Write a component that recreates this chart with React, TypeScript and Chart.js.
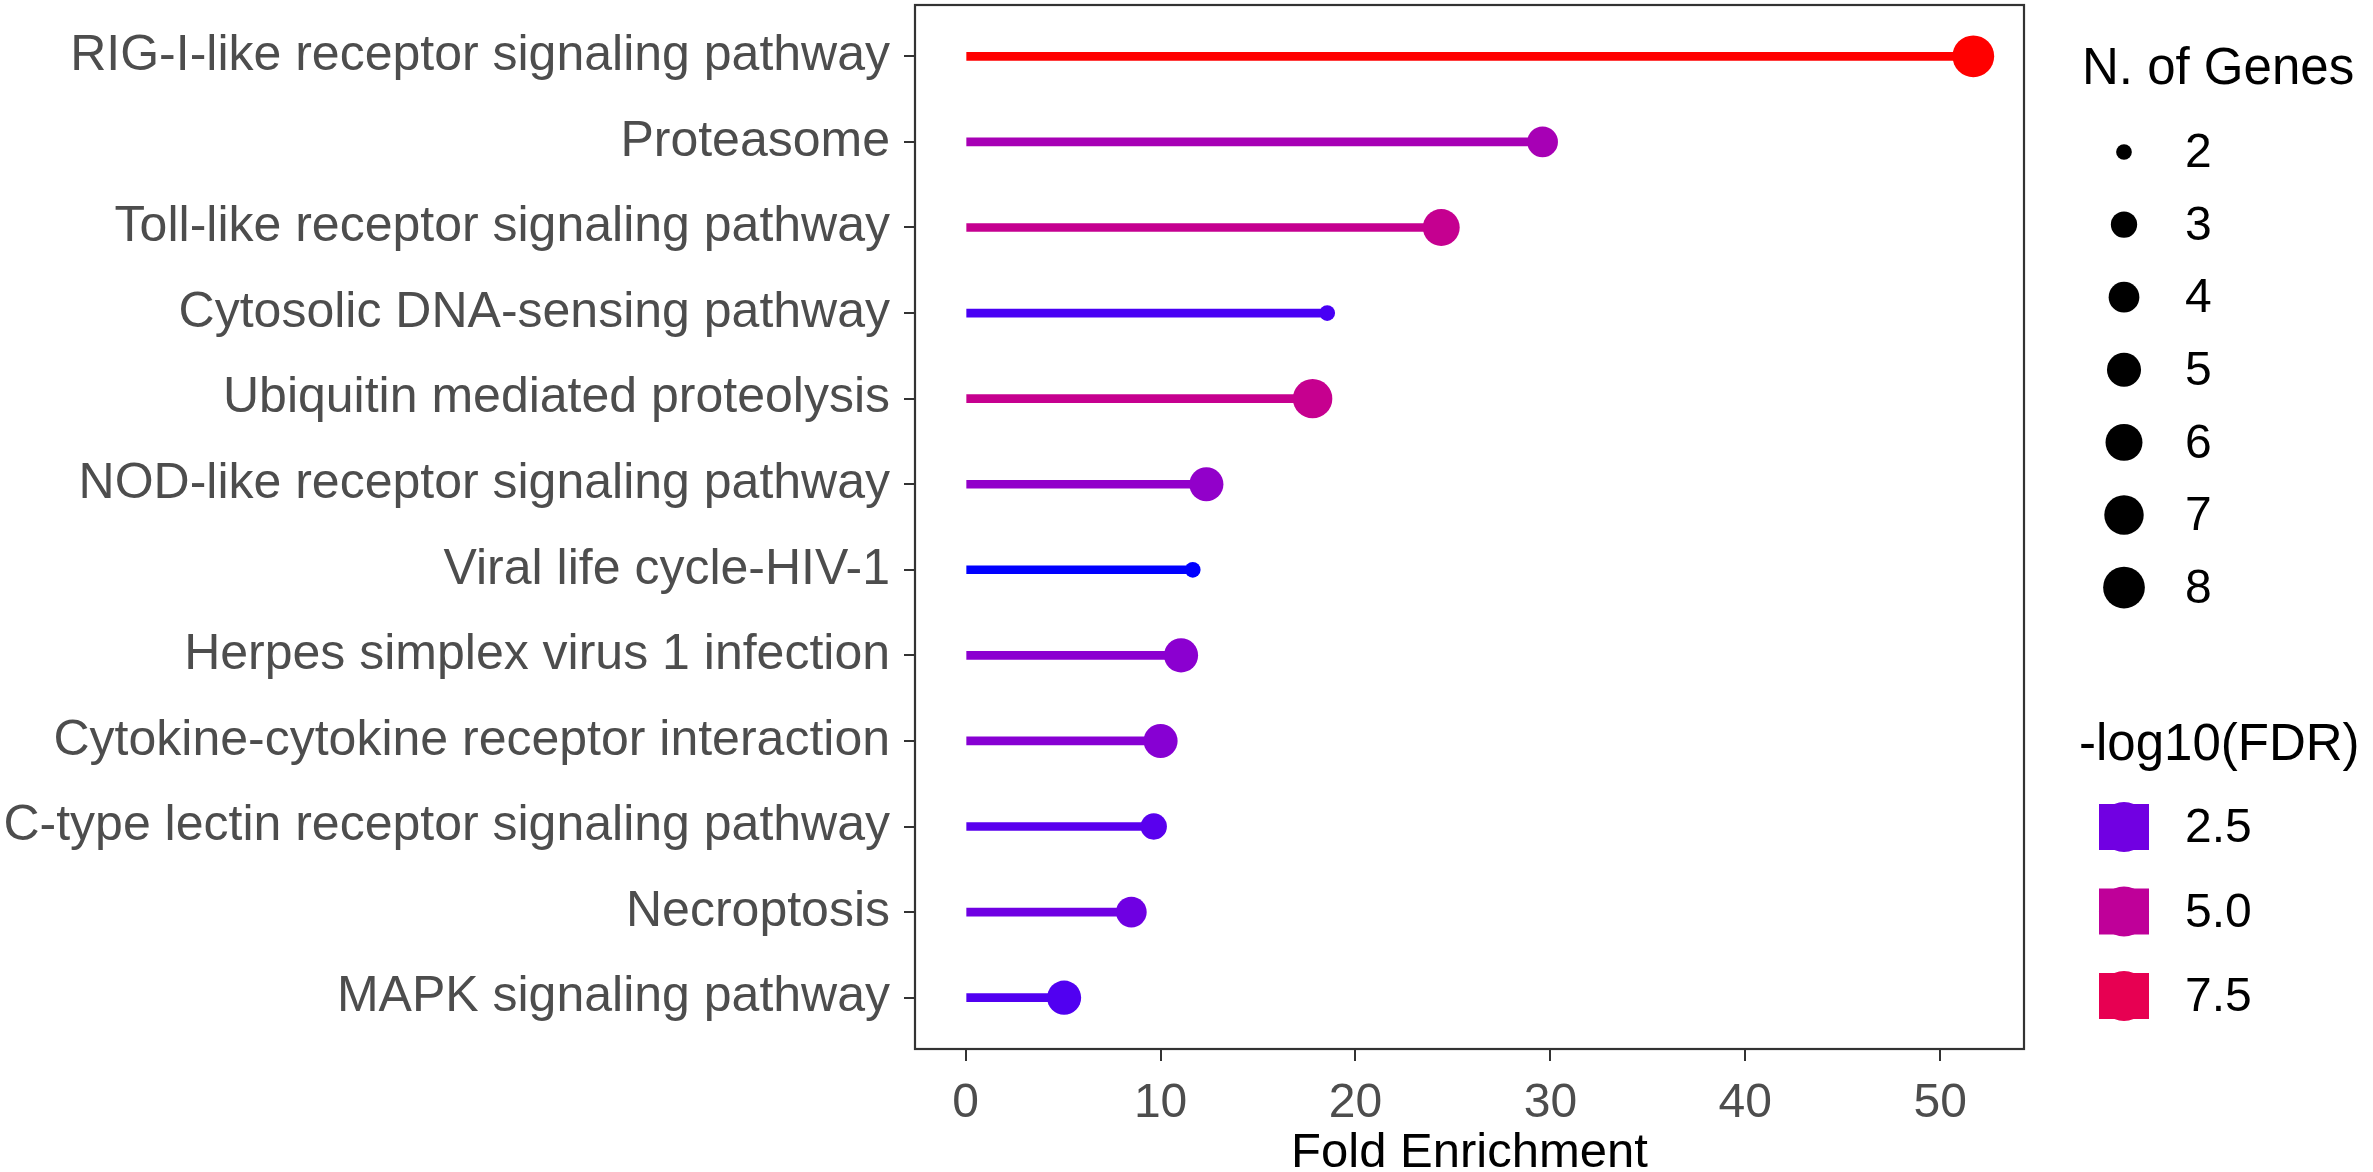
import { useEffect, useRef } from "react";
import { Chart, registerables } from "chart.js";

Chart.register(...registerables);

const categories = [
  "RIG-I-like receptor signaling pathway",
  "Proteasome",
  "Toll-like receptor signaling pathway",
  "Cytosolic DNA-sensing pathway",
  "Ubiquitin mediated proteolysis",
  "NOD-like receptor signaling pathway",
  "Viral life cycle-HIV-1",
  "Herpes simplex virus 1 infection",
  "Cytokine-cytokine receptor interaction",
  "C-type lectin receptor signaling pathway",
  "Necroptosis",
  "MAPK signaling pathway",
];
const foldEnrichment = [51.7, 29.6, 24.4, 18.55, 17.8, 12.35, 11.65, 11.05, 10.0, 9.65, 8.5, 5.05];
const geneCounts = [8, 4, 6, 2, 7, 5, 2, 5, 5, 3, 4, 5];
const negLog10FDR = [9.6, 4.0, 5.3, 1.9, 5.35, 3.3, 1.53, 3.1, 3.0, 2.1, 2.46, 2.0];
const xTickValues = [0, 10, 20, 30, 40, 50];
const sizeLegendValues = [2, 3, 4, 5, 6, 7, 8];
const colorLegendValues = [2.5, 5.0, 7.5];
const colorLegendLabels = ["2.5", "5.0", "7.5"];

const FONT = '"Liberation Sans", Arial, sans-serif';

// ---- colour gradient (blue -> red in CIE Lab, like ggplot) ----
function toLin(c: number) {
  c /= 255;
  return c <= 0.04045 ? c / 12.92 : Math.pow((c + 0.055) / 1.055, 2.4);
}
function fromLin(c: number) {
  const v = c <= 0.0031308 ? 12.92 * c : 1.055 * Math.pow(Math.max(c, 0), 1 / 2.4) - 0.055;
  return Math.round(Math.max(0, Math.min(1, v)) * 255);
}
const XN = 0.95047, YN = 1.0, ZN = 1.08883;
function rgbToLab(rgb: number[]) {
  const R = toLin(rgb[0]), G = toLin(rgb[1]), B = toLin(rgb[2]);
  const X = (0.4124 * R + 0.3576 * G + 0.1805 * B) / XN;
  const Y = (0.2126 * R + 0.7152 * G + 0.0722 * B) / YN;
  const Z = (0.0193 * R + 0.1192 * G + 0.9505 * B) / ZN;
  const f = (t: number) => (t > 0.008856 ? Math.cbrt(t) : 7.787 * t + 16 / 116);
  const fx = f(X), fy = f(Y), fz = f(Z);
  return [116 * fy - 16, 500 * (fx - fy), 200 * (fy - fz)];
}
function labToRgb(lab: number[]) {
  const fy = (lab[0] + 16) / 116;
  const fx = fy + lab[1] / 500;
  const fz = fy - lab[2] / 200;
  const inv = (t: number) => (t * t * t > 0.008856 ? t * t * t : (t - 16 / 116) / 7.787);
  const X = XN * inv(fx), Y = YN * inv(fy), Z = ZN * inv(fz);
  const R = 3.2406 * X - 1.5372 * Y - 0.4986 * Z;
  const G = -0.9689 * X + 1.8758 * Y + 0.0415 * Z;
  const B = 0.0557 * X - 0.204 * Y + 1.057 * Z;
  return `rgb(${fromLin(R)},${fromLin(G)},${fromLin(B)})`;
}
const LOW = rgbToLab([0, 0, 255]);
const HIGH = rgbToLab([255, 0, 0]);
const fdrMin = Math.min(...negLog10FDR);
const fdrMax = Math.max(...negLog10FDR);
function colorFor(v: number) {
  const t = Math.max(0, Math.min(1, (v - fdrMin) / (fdrMax - fdrMin)));
  return labToRgb([0, 1, 2].map((i) => LOW[i] + (HIGH[i] - LOW[i]) * t));
}

// ---- size scale (area-proportional) ----
const nMin = Math.min(...sizeLegendValues);
const nMax = Math.max(...sizeLegendValues);
function radiusFor(n: number) {
  return 7.85 + 13 * Math.sqrt((n - nMin) / (nMax - nMin));
}

const overlayPlugin = {
  id: "overlay",
  afterDraw(chart: any) {
    const { ctx, chartArea: ca } = chart;
    ctx.save();
    // panel border
    ctx.strokeStyle = "#333333";
    ctx.lineWidth = 2.2;
    ctx.strokeRect(ca.left, ca.top, ca.right - ca.left, ca.bottom - ca.top);

    // x axis title
    ctx.fillStyle = "#000000";
    ctx.font = `49px ${FONT}`;
    ctx.textAlign = "center";
    ctx.textBaseline = "alphabetic";
    ctx.fillText("Fold Enrichment", (ca.left + ca.right) / 2, 1167);

    // size legend
    const lx = ca.right + 58;
    const dotX = ca.right + 100;
    const labX = ca.right + 161;
    ctx.textAlign = "left";
    ctx.font = `51px ${FONT}`;
    ctx.fillText("N. of Genes", lx, 84);
    ctx.font = `48px ${FONT}`;
    ctx.textBaseline = "middle";
    sizeLegendValues.forEach((n, i) => {
      const y = 152 + i * 72.6;
      ctx.fillStyle = "#000000";
      ctx.beginPath();
      ctx.arc(dotX, y, radiusFor(n), 0, Math.PI * 2);
      ctx.fill();
      ctx.fillText(String(n), labX, y + 2);
    });

    // colour legend
    ctx.textBaseline = "alphabetic";
    ctx.font = `51px ${FONT}`;
    ctx.fillText("-log10(FDR)", lx - 3, 760);
    ctx.font = `48px ${FONT}`;
    ctx.textBaseline = "middle";
    colorLegendValues.forEach((v, i) => {
      const y = 827 + i * 84.5;
      const c = colorFor(v);
      ctx.fillStyle = c;
      ctx.fillRect(dotX - 25, y - 23, 50, 46);
      ctx.beginPath();
      ctx.arc(dotX, y, 25, 0, Math.PI * 2);
      ctx.fill();
      ctx.fillStyle = "#000000";
      ctx.fillText(colorLegendLabels[i], labX, y + 2);
    });
    ctx.restore();
  },
};

export default function App() {
  const canvasRef = useRef<HTMLCanvasElement | null>(null);

  useEffect(() => {
    document.body.style.margin = "0";
    const canvas = canvasRef.current;
    if (!canvas) return;
    const colors = negLog10FDR.map(colorFor);
    const radii = geneCounts.map(radiusFor);
    const points = foldEnrichment.map((v, i) => ({ x: v, y: i }));

    const chart = new Chart(canvas, {
      type: "bar",
      data: {
        datasets: [
          {
            type: "line",
            data: points,
            showLine: false,
            pointRadius: radii,
            pointHoverRadius: radii,
            pointBackgroundColor: colors,
            pointBorderColor: colors,
            pointBorderWidth: 0,
            order: 0,
          } as any,
          {
            type: "bar",
            data: points,
            backgroundColor: colors,
            borderWidth: 0,
            barThickness: 8,
            order: 1,
          } as any,
        ],
      },
      options: {
        indexAxis: "y",
        animation: false,
        responsive: true,
        maintainAspectRatio: false,
        layout: { autoPadding: false, padding: { top: 5, right: 349, left: 0, bottom: 0 } },
        plugins: { legend: { display: false }, tooltip: { enabled: false } },
        events: [],
        scales: {
          x: {
            type: "linear",
            offset: false,
            min: -2.6,
            max: 54.3,
            afterBuildTicks: (s: any) => {
              s.ticks = xTickValues.map((v) => ({ value: v }));
            },
            afterFit: (s: any) => {
              s.height = 123;
              s.paddingLeft = 0;
              s.paddingRight = 0;
            },
            ticks: {
              font: { family: FONT, size: 48 },
              color: "#4D4D4D",
              padding: 14,
              maxRotation: 0,
              callback: (v: any) => String(v),
            },
            grid: {
              offset: false,
              drawOnChartArea: false,
              drawTicks: true,
              tickLength: 12,
              color: "#333333",
              lineWidth: 2,
            },
            border: { display: false },
          },
          y: {
            type: "linear",
            offset: false,
            reverse: true,
            min: -0.6,
            max: 11.6,
            afterBuildTicks: (s: any) => {
              s.ticks = categories.map((_, i) => ({ value: i }));
            },
            afterFit: (s: any) => {
              s.width = 915;
              s.paddingTop = 0;
              s.paddingBottom = 0;
            },
            ticks: {
              font: { family: FONT, size: 50 },
              color: "#4D4D4D",
              padding: 14,
              autoSkip: false,
              callback: (v: any) => categories[v as number] ?? "",
            },
            grid: {
              offset: false,
              drawOnChartArea: false,
              drawTicks: true,
              tickLength: 11,
              color: "#333333",
              lineWidth: 2,
            },
            border: { display: false },
          },
        },
      },
      plugins: [overlayPlugin],
    });
    return () => chart.destroy();
  }, []);

  return (
    <div style={{ width: "2373px", height: "1172px", position: "relative" }}>
      <canvas ref={canvasRef} />
    </div>
  );
}
